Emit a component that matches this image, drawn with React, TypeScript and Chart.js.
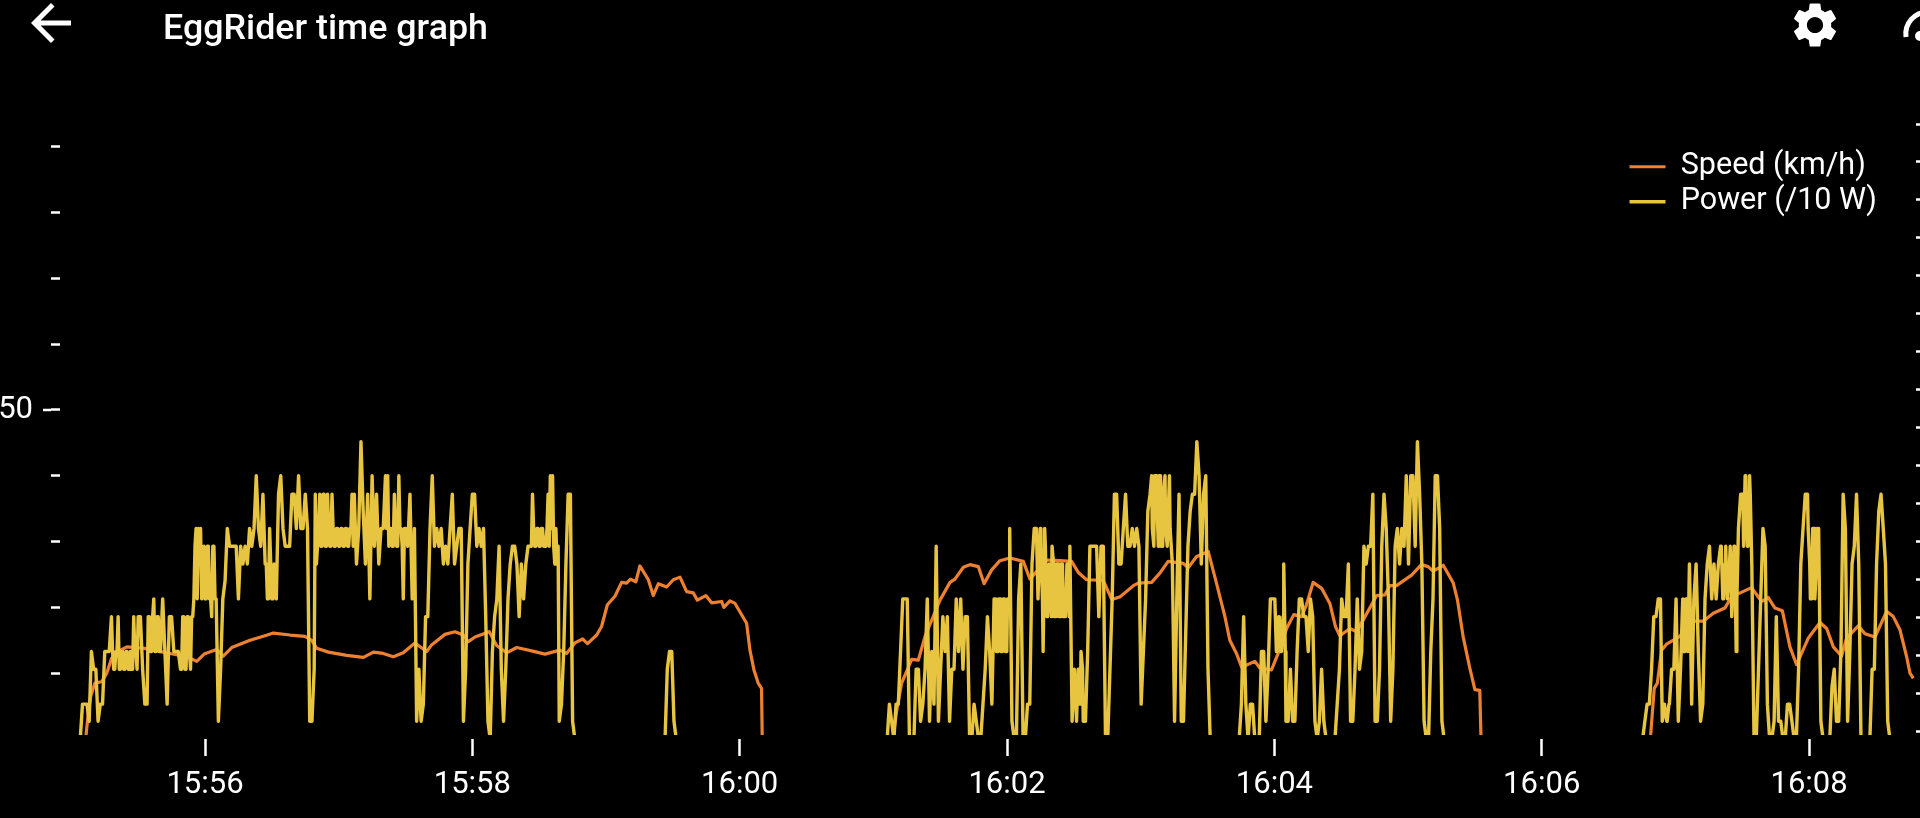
import React, { useEffect, useRef } from "react";
import { Chart, registerables } from "chart.js";

Chart.register(...registerables);

const titleText = "EggRider time graph";
const speedLabel = "Speed (km/h)";
const powerLabel = "Power (/10 W)";

// Seconds after 15:55:00
const timeTicks = [60, 180, 300, 420, 540, 660, 780];
const timeTickLabels = ["15:56", "15:58", "16:00", "16:02", "16:04", "16:06", "16:08"];
const leftTicks = [10, 20, 30, 40, 50, 60, 70, 80, 90];
const leftMajorTicks = [50];
const rightTicks = [0, 1, 2, 3, 4, 5, 6, 7, 8, 9, 10, 11, 12, 13, 14, 15, 16];

const powerStartA = 4;
const powerA = [
  0,5.3,5.3,5.3,2.7,13.3,10.6,10.6,2.7,5.3,
  5.3,13.3,13.3,13.3,18.6,10.6,13.3,18.6,10.6,13.3,
  10.6,13.3,10.6,10.6,18.6,13.3,18.6,18.6,10.6,5.3,
  5.3,18.6,13.3,21.3,13.3,18.6,13.3,21.3,13.3,5.3,
  18.6,18.6,13.3,13.3,13.3,10.6,18.6,10.6,18.6,13.3,
  18.6,21.3,32,32,32,26.6,21.3,29.3,21.3,18.6,
  29.3,21.3,2.7,10.6,21.3,24,32,29.3,29.3,29.3,
  29.3,21.3,29.3,26.6,29.3,26.6,32,29.3,32,40,
  32,29.3,37.2,26.6,21.3,32,21.3,26.6,21.3,37.2,
  40,32,29.3,29.3,29.3,37.2,37.2,32,40,32,
  32,37.2,32,2.7,2.7,10.6,26.6,32,29.3,37.2,
  29.3,37.2,29.3,37.2,29.3,32,29.3,32,29.3,32,
  29.3,32,37.2,37.2,26.6,32,45.2,34.6,26.6,37.2,
  21.3,40,29.3,37.2,26.6,32,32,40,40,32,
  29.3,37.2,29.3,40,32,21.3,32,29.3,37.2,21.3,
  32,2.7,10.6,2.7,5.3,18.6,18.6,32,40,29.3,
  32,29.3,32,26.6,29.3,26.6,32,37.2,26.6,29.3,
  32,32,2.7,10.6,26.6,32,37.2,37.2,29.3,32,
  29.3,32,18.6,2.7,0,13.3,18.6,21.3,29.3,10.6,
  2.7,10.6,21.3,26.6,29.3,29.3,26.6,18.6,26.6,21.3,
  26.6,29.3,29.3,37.2,29.3,32,29.3,32,29.3,29.3,
  37.2,40,40,26.6,26.6,2.7,5.3,13.3,26.6,37.2,
  37.2,2.7,0,
];

const powerStartPulse = 266.5;
const powerPulse = [0, 10.6, 13.3, 13.3, 2.7, 0];

const powerStartB = 366.2;
const powerB = [
  0,5.3,2.7,0,5.3,5.3,13.3,21.3,21.3,21.3,
  0,0,0,10.6,10.6,2.7,5.3,10.6,21.3,2.7,
  13.3,5.3,29.3,2.7,10.6,18.6,13.3,18.6,2.7,10.6,
  10.6,21.3,13.3,21.3,10.6,18.6,18.6,0,0,5.3,
  2.7,0,0,5.3,10.6,18.6,13.3,5.3,21.3,13.3,
  21.3,13.3,21.3,13.3,21.3,32,2.7,0,0,21.3,
  26.6,0,0,5.3,5.3,26.6,32,32,21.3,29.3,
  13.3,29.3,18.6,26.6,29.3,18.6,26.6,18.6,26.6,18.6,
  18.6,26.6,29.3,2.7,10.6,2.7,5.3,13.3,2.7,2.7,
  13.3,29.3,29.3,29.3,29.3,18.6,29.3,29.3,0,0,
  10.6,21.3,37.2,37.2,26.6,26.6,32,37.2,29.3,29.3,
  32,29.3,32,29.3,5.3,13.3,21.3,34.6,37.2,32,
  40,37.2,40,29.3,37.2,32,29.3,32,26.6,2.7,
  21.3,37.2,2.7,2.7,16,29.3,34.6,37.2,37.2,45.2,
  40,26.6,37.2,40,10.6,0,0,0,0,0,
  0,0,0,0,0,0,0,0,0,5.3,
  18.6,5.3,0,5.3,5.3,0,0,0,13.3,13.3,
  2.7,10.6,21.3,21.3,21.3,13.3,18.6,13.3,26.6,2.7,
  2.7,10.6,2.7,2.7,13.3,21.3,21.3,18.6,18.6,13.3,
  21.3,18.6,2.7,0,2.7,10.6,2.7,0,0,0,
  0,0,5.3,10.6,21.3,18.6,18.6,26.6,2.7,2.7,
  10.6,21.3,10.6,13.3,29.3,26.6,29.3,29.3,37.2,2.7,
  2.7,10.6,29.3,37.2,32,21.3,2.7,10.6,29.3,32,
  26.6,32,29.3,40,26.6,40,40,29.3,45.2,37.2,
  26.6,2.7,0,0,13.3,21.3,40,40,32,2.7,
  0,
];

const powerStartC = 705.3;
const powerC = [
  0,2.7,5.3,5.3,10.6,18.6,18.6,21.3,21.3,2.7,
  5.3,2.7,5.3,10.6,10.6,21.3,2.7,10.6,21.3,13.3,
  21.3,26.6,5.3,21.3,26.6,13.3,2.7,5.3,21.3,26.6,
  29.3,21.3,26.6,21.3,26.6,29.3,21.3,26.6,21.3,26.6,
  18.6,29.3,13.3,32,37.2,37.2,40,29.3,40,26.6,
  0,0,10.6,21.3,32,29.3,5.3,0,0,2.7,
  18.6,2.7,2.7,0,0,5.3,5.3,2.7,0,0,
  10.6,26.6,32,37.2,37.2,26.6,21.3,32,26.6,32,
  2.7,0,0,0,0,8,10.6,2.7,2.7,13.3,
  37.2,32,2.7,13.3,26.6,29.3,37.2,26.6,0,0,
  0,0,0,10.6,10.6,26.6,34.6,37.2,32,26.6,
  2.7,0,
];

// Half-second samples where the power trace is solid in the picture
const denseStarts = [18.5, 34.5, 49.5, 55.5, 87.5, 109.5, 115.5, 141.5, 206.5, 414.9, 432.9, 437.9, 450.9, 484.9, 540.9, 714.1, 723.6, 740.6, 749.6, 779.6];
const denseRuns = [
  [13.3,10.6,13.3,10.6,13.3,10.6,13.3,10.6,13.3,10.6,13.3,10.6],
  [18.6,13.3,18.6,13.3,18.6,13.3],
  [10.6,18.6,10.6,18.6,10.6,18.6],
  [29.3,21.3,29.3,21.3,29.3,21.3,29.3,21.3,29.3,21.3],
  [26.6,21.3,26.6,21.3],
  [37.2,29.3,37.2,29.3,37.2,29.3],
  [32,29.3,32,29.3,32,29.3,32,29.3,32,29.3,32,29.3],
  [32,29.3,32,29.3,32,29.3,32,29.3,32],
  [29.3,32,29.3,32,29.3,32,29.3,32,29.3,32,29.3,32,29.3],
  [21.3,13.3,21.3,13.3,21.3,13.3,21.3],
  [32,21.3,32,21.3,32],
  [18.6,26.6,18.6,26.6,18.6,26.6,18.6,26.6,18.6,26.6,18.6],
  [5.3,10.6,5.3,10.6],
  [40,29.3,40,29.3,40,29.3,40,29.3,40],
  [13.3,18.6,13.3,18.6,13.3],
  [2.7,5.3,2.7,5.3],
  [13.3,21.3,13.3,21.3],
  [29.3,21.3,29.3,21.3,29.3,21.3,29.3,21.3],
  [37.2,29.3,37.2,29.3,37.2],
  [32,21.3,32,21.3,32],
];

const speedTimes = [
  6.2,6.6,7.6,8.7,10.6,13.6,15.9,18.1,21.1,24.9,32.3,38.3,44.3,51.8,56.3,59.6,65.2,68.2,72,80.2,
  86.9,90.7,98.2,104.9,107.9,110.1,115.4,123.6,131.1,135.6,140,144.5,149,154.2,159.5,161.7,167.7,172.2,175.9,178.2,
  181.2,187.6,190.9,195.4,199.9,206.6,212.6,219.3,222.3,226,229.5,231.7,235.8,238,240.6,244,247,249.2,251,253.4,
  255.2,259,261.2,263.5,267.2,270.2,273.2,276.2,279.2,281,284.8,287.4,291.9,292.9,295.6,297.9,303.1,304.6,306.4,308.3,
  309.8,310.1,310.5,
  368.7,369,370.5,372.7,377.2,380.2,383.2,389.9,394.4,396.6,400.4,403.4,407.1,409.7,413.1,416.8,421.3,427.3,430.3,437.8,
  443.8,449,452,455.7,463.2,467,470.7,476.7,478.9,484.9,488.6,492.3,499.1,501.3,505,510.3,514,517.8,520,523,
  525.3,531.2,533.5,538.7,541.7,545.5,548.7,552.2,554.4,557.4,561.2,564.9,567.4,569.4,573.9,576.9,579.9,585.9,589.6,591.8,
  594.8,601.6,606,609,611.3,615.8,620.3,622.2,624.7,627.7,630,632.2,632.7,633,
  708.6,708.9,710.5,711.9,713.8,716,722,727.3,732.5,737,742.2,745.2,754.2,758.7,761.7,764.7,768,771.4,774.4,779.6,
  784.9,787.9,790.9,794.6,796.8,802.1,805.1,809.6,814.8,817.8,820.8,823.8,825.3,826.8,
];
const speedValues = [
  0,0.6,3.9,6.5,8.5,8.7,10,12.3,13.3,14,13.8,13.4,13,12.5,11.8,12.9,13.6,12.6,13.9,15,
  15.7,16.1,15.8,15.6,15,13.8,13.2,12.7,12.4,13.2,13,12.5,13.1,14.6,13.3,14.3,15.9,16.3,15.8,14.8,
  15.5,16.3,14.2,13.1,13.9,13.4,12.9,13.5,13,14.6,15.2,14.5,15.8,17.1,20.4,21.7,23.8,23.7,24.3,23.9,
  26.3,24.2,21.8,23.6,23.1,24.2,24.6,22.4,22.2,21.1,21.8,20.7,20.9,20,21,20.6,17.6,13.5,10.5,8.5,
  7.7,0.6,0,
  0,0.6,4.4,8.5,12.1,12,15.6,21.1,23.8,24.3,26.1,26.5,26.2,23.6,25.7,27.1,27.5,27,24.3,27.2,
  27.1,27,25.3,24.2,24.1,21.2,21.6,23.3,23.7,23.8,25.2,27,26.7,26,27.7,28.5,23.7,18.6,15,13,
  10.9,11.8,10.8,10.5,13,16.8,18.9,18.6,20.4,23.8,22.9,20.6,17.1,15.7,16.8,16.3,18.1,21.8,21.9,23.3,
  23.3,24.9,26.5,26.2,25.5,26.4,23.7,21.1,15.6,10.8,7.5,7.4,0.6,0,
  0,0.6,7.7,8.5,13.5,14.4,15.6,17.9,17.9,19.1,19.9,21.6,23,20.9,21.5,19.9,19.5,14,11.3,15.3,
  17.7,16.8,14,12.6,15.3,17.2,16,15.5,19.4,18.6,16.6,12.5,10,9.2,
];

const ORANGE = "#ee8130";
const YELLOW = "#e8c540";
const WHITE = "#ffffff";
const FONT = "Roboto";

const seriesPoints = (start: number, vals: number[]) => vals.map((y, i) => ({ x: start + i, y }));

export default function App() {
  const ref = useRef<HTMLCanvasElement | null>(null);

  useEffect(() => {
    document.body.style.margin = "0";
    document.body.style.background = "#000";
    const powerPoints = [
      ...seriesPoints(powerStartA, powerA),
      ...seriesPoints(powerStartPulse, powerPulse),
      ...seriesPoints(powerStartB, powerB),
      ...seriesPoints(powerStartC, powerC),
      ...denseStarts.flatMap((s, i) => seriesPoints(s, denseRuns[i])),
    ].sort((a, b) => a.x - b.x);
    const speedPoints = speedTimes.map((x, i) => ({ x, y: speedValues[i] }));
    const clip = { left: 0, top: 0, right: 0, bottom: -4 };

    const placeLegend = {
      id: "placeLegend",
      afterLayout(chart: any) {
        chart.legend.left = 1625;
        chart.legend.top = 147;
      },
    };
    const majorTicks = {
      id: "majorTicks",
      afterDatasetsDraw(chart: any) {
        const s = chart.scales.y;
        const ctx = chart.ctx;
        ctx.save();
        ctx.strokeStyle = WHITE;
        ctx.lineWidth = 2.5;
        for (const v of leftMajorTicks) {
          const py = s.getPixelForValue(v);
          ctx.beginPath();
          ctx.moveTo(s.right - 17, py);
          ctx.lineTo(s.right - 9, py);
          ctx.stroke();
        }
        ctx.restore();
      },
    };

    const chart = new Chart(ref.current as HTMLCanvasElement, {
      type: "line",
      data: {
        datasets: [
          {
            label: speedLabel,
            data: speedPoints,
            borderColor: ORANGE,
            backgroundColor: ORANGE,
            borderWidth: 3.2,
            pointRadius: 0,
            tension: 0,
            order: 2,
            clip,
            borderJoinStyle: "round",
          },
          {
            label: powerLabel,
            data: powerPoints,
            borderColor: YELLOW,
            backgroundColor: YELLOW,
            borderWidth: 3.4,
            pointRadius: 0,
            tension: 0,
            order: 1,
            clip,
            borderJoinStyle: "round",
          },
        ],
      },
      options: {
        animation: false,
        responsive: false,
        parsing: false,
        layout: { padding: { top: 80, left: 0, right: 0, bottom: 0 } },
        plugins: {
          tooltip: { enabled: false },
          title: { display: false },
          legend: {
            position: "chartArea",
            align: "start",
            labels: {
              color: WHITE,
              font: { family: FONT, size: 30.5, lineHeight: 1 },
              padding: 4.5,
              usePointStyle: true,
              pointStyle: "line",
              pointStyleWidth: 36,
              sort: (a: any, b: any) => a.datasetIndex - b.datasetIndex,
            },
          },
        },
        scales: {
          x: {
            type: "linear",
            min: -5.09,
            max: 828,
            afterFit: (s: any) => {
              s.height = 79;
            },
            afterBuildTicks: (s: any) => {
              s.ticks = timeTicks.map((value) => ({ value }));
            },
            grid: { drawOnChartArea: false, drawTicks: true, tickLength: 17, tickColor: WHITE, tickWidth: 2.5 },
            border: { display: false },
            ticks: {
              color: WHITE,
              font: { family: FONT, size: 31 },
              padding: 11,
              maxRotation: 0,
              autoSkip: false,
              callback: (v: any) => timeTickLabels[timeTicks.indexOf(v)],
            },
          },
          y: {
            type: "linear",
            position: "left",
            min: 0,
            max: 100.15,
            afterFit: (s: any) => {
              s.width = 60;
            },
            afterBuildTicks: (s: any) => {
              s.ticks = leftTicks.map((value) => ({ value }));
            },
            grid: { drawOnChartArea: false, drawTicks: true, tickLength: 9, tickColor: WHITE, tickWidth: 2.5 },
            border: { display: false },
            ticks: {
              color: WHITE,
              font: { family: FONT, size: 31 },
              padding: 18,
              autoSkip: false,
              callback: (v: any) => (leftMajorTicks.includes(v) ? String(v) : ""),
            },
          },
          y1: {
            type: "linear",
            position: "right",
            min: -0.21,
            max: 17.16,
            afterFit: (s: any) => {
              s.width = 4;
            },
            afterBuildTicks: (s: any) => {
              s.ticks = rightTicks.map((value) => ({ value }));
            },
            grid: { drawOnChartArea: false, drawTicks: true, tickLength: 4, tickColor: WHITE, tickWidth: 2.5 },
            border: { display: false },
            ticks: { display: false, autoSkip: false },
          },
        },
      },
      plugins: [placeLegend, majorTicks],
    } as any);
    return () => chart.destroy();
  }, []);

  return (
    <div style={{ position: "fixed", inset: 0, background: "#000", overflow: "hidden" }}>
      <canvas ref={ref} width={1920} height={818} style={{ position: "absolute", left: 0, top: 0, width: 1920, height: 818 }} />
      <svg width="60" height="60" viewBox="0 0 24 24" style={{ position: "absolute", left: 21, top: -7 }}>
        <path fill="#fff" d="M20 11H7.83l5.59-5.59L12 4l-8 8 8 8 1.41-1.41L7.83 13H20v-2z" />
      </svg>
      <div
        style={{
          position: "absolute",
          left: 163,
          top: 7,
          font: "500 35.8px Roboto",
          lineHeight: "40px",
          color: "#fff",
          whiteSpace: "nowrap",
        }}
      >
        {titleText}
      </div>
      <svg width="54" height="54" viewBox="0 0 24 24" style={{ position: "absolute", left: 1788, top: -2 }}>
        <path
          fill="#fff"
          d="M19.14 12.94c.04-.3.06-.61.06-.94 0-.32-.02-.64-.07-.94l2.03-1.58c.18-.14.23-.41.12-.61l-1.92-3.32c-.12-.22-.37-.29-.59-.22l-2.39.96c-.5-.38-1.03-.7-1.62-.94l-.36-2.54c-.04-.24-.24-.41-.48-.41h-3.84c-.24 0-.43.17-.47.41l-.36 2.54c-.59.24-1.13.57-1.62.94l-2.39-.96c-.22-.08-.47 0-.59.22L2.74 8.87c-.12.21-.08.47.12.61l2.03 1.58c-.05.3-.09.63-.09.94s.02.64.07.94l-2.03 1.58c-.18.14-.23.41-.12.61l1.92 3.32c.12.22.37.29.59.22l2.39-.96c.5.38 1.03.7 1.62.94l.36 2.54c.05.24.24.41.48.41h3.84c.24 0 .44-.17.47-.41l.36-2.54c.59-.24 1.13-.56 1.62-.94l2.39.96c.22.08.47 0 .59-.22l1.92-3.32c.12-.22.07-.47-.12-.61l-2.01-1.58zM12 15.6c-1.98 0-3.6-1.62-3.6-3.6s1.62-3.6 3.6-3.6 3.6 1.62 3.6 3.6-1.62 3.6-3.6 3.6z"
        />
      </svg>
      <svg width="40" height="50" viewBox="0 0 40 50" style={{ position: "absolute", left: 1900, top: 0 }}>
        <path d="M6 37 A 22 22 0 0 1 28 12" fill="none" stroke="#fff" strokeWidth="5" />
        <circle cx="20" cy="36" r="5" fill="#fff" />
      </svg>
    </div>
  );
}
